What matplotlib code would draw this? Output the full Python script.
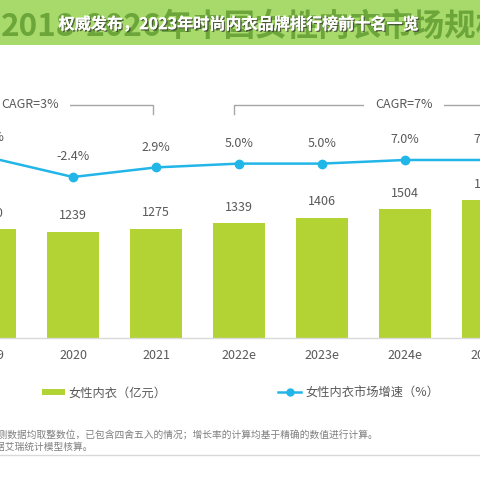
import matplotlib
matplotlib.use("Agg")
import matplotlib.pyplot as plt
import matplotlib.patheffects as pe
from matplotlib.lines import Line2D

plt.rcParams['font.family'] = ['Noto Sans CJK SC', 'DejaVu Sans']

years = ['2019', '2020', '2021', '2022e', '2023e', '2024e', '2025e']
sales = [1270, 1239, 1275, 1339, 1406, 1504, 1609]          # 亿元
growth = [8.3, -2.4, 2.9, 5.0, 5.0, 7.0, 7.0]              # %
bar_labels = ['1270', '1239', '1275', '1339', '1406', '1504', '1609']
growth_labels = ['8.3%', '-2.4%', '2.9%', '5.0%', '5.0%', '7.0%', '7.0%']
cagr_spans = [(-1.0, 1.96, 'CAGR=3%'), (2.94, 7.04, 'CAGR=7%')]

W = H = 480
GREEN = '#b3d234'
BLUE = '#22b6e8'
GRAY = '#595959'

fig = plt.figure(figsize=(4.8, 4.8), dpi=100)

# banner
bax = fig.add_axes([0, 1 - 45 / H, 1, 45 / H])
bax.set_facecolor('#a7d96b')
bax.set_xlim(0, W)
bax.set_ylim(45, 0)
bax.set_xticks([])
bax.set_yticks([])
for s in bax.spines.values():
    s.set_visible(False)
bax.text(1, 36, '2018-2026年中国女性内衣市场规模', fontsize=22.7, fontweight='bold',
         color='#6ca63a', ha='left', va='baseline', clip_on=True)
bax.text(239, 24, '权威发布，2023年时尚内衣品牌排行榜前十名一览', fontsize=11.6,
         fontweight='bold', color='white', ha='center', va='center',
         path_effects=[pe.withSimplePatchShadow(offset=(1, -1), shadow_rgbFace='#333333', alpha=0.7),
                       pe.Normal()])

# main chart: category centres at pixel -10 + 83*i
x_left = -10 - 0.5 * 83
x_right = -10 + 6.5 * 83
base_px = 338
top_px = 98
px_per_unit = 0.0856
ymax = (base_px - top_px) / px_per_unit
ax = fig.add_axes([x_left / W, 1 - base_px / H, (x_right - x_left) / W, (base_px - top_px) / H])
ax.set_xlim(-0.5, 6.5)
ax.set_ylim(0, ymax)
ax.patch.set_alpha(0)
x = list(range(len(years)))
bars = ax.bar(x, sales, width=52 / 83, color=GREEN, zorder=2)
for xi, v, lab in zip(x, sales, bar_labels):
    ax.annotate(lab, (xi, v), xytext=(0, 11.5), textcoords='offset points',
                ha='center', va='center', fontsize=9, color=GRAY)
ax.set_xticks(x)
ax.set_xticklabels(years, fontsize=9, color=GRAY)
ax.tick_params(axis='x', length=0, pad=8)
ax.set_yticks([])
for side in ['top', 'left', 'right']:
    ax.spines[side].set_visible(False)
ax.spines['bottom'].set_color('#d9d9d9')
ax.spines['bottom'].set_linewidth(1)

# growth line on twin axis
k = 1.81  # px per %
lo = -2.4 - ((H - 177) - (H - base_px)) / k
hi = lo + (base_px - top_px) / k
ax2 = ax.twinx()
ax2.set_ylim(lo, hi)
ax2.set_yticks([])
for s in ax2.spines.values():
    s.set_visible(False)
ax2.plot(x, growth, color=BLUE, lw=1.8, marker='o', ms=6, zorder=3, clip_on=False)
for xi, v, lab in zip(x, growth, growth_labels):
    ax2.annotate(lab, (xi, v), xytext=(0, 14.4), textcoords='offset points',
                 ha='center', va='center', fontsize=9, color=GRAY)

# CAGR brackets
yb = lo + (H - 105 - (H - base_px)) / k
tick = 9 / k
for x0, x1, lab in cagr_spans:
    ax2.plot([x0, x0, x1, x1], [yb - tick, yb, yb, yb - tick], color='#a6a6a6', lw=1, clip_on=False)
    ax2.text((x0 + x1) / 2, yb, lab, ha='center', va='center', fontsize=9, color=GRAY,
             bbox=dict(boxstyle='square,pad=0.9', fc='white', ec='none'))

# legend
handles = [Line2D([], [], color=GREEN, lw=4.3, solid_capstyle='butt'),
           Line2D([], [], color=BLUE, lw=1.8, marker='o', ms=5)]
fig.legend(handles, ['女性内衣（亿元）', '女性内衣市场增速（%）'], loc='center left',
           bbox_to_anchor=(42 / W, 1 - 393 / H), ncol=2, frameon=False,
           fontsize=8.8, labelcolor=GRAY, handlelength=1.9, handletextpad=0.3,
           columnspacing=9.1, borderpad=0, borderaxespad=0)

# footnote
fig.text(378 / W, 1 - 435 / H, '注释：2022-2026年预测数据均取整数位，已包含四舍五入的情况；增长率的计算均基于精确的数值进行计算。',
         ha='right', va='center', fontsize=7, color='#7f7f7f')
fig.text(93 / W, 1 - 447 / H, '来源：根据艾瑞统计模型核算。',
         ha='right', va='center', fontsize=7, color='#7f7f7f')
fig.add_artist(Line2D([0, 1], [1 - 455 / H, 1 - 455 / H], color='#d9d9d9', lw=1))

fig.savefig('out.png', dpi=100)
